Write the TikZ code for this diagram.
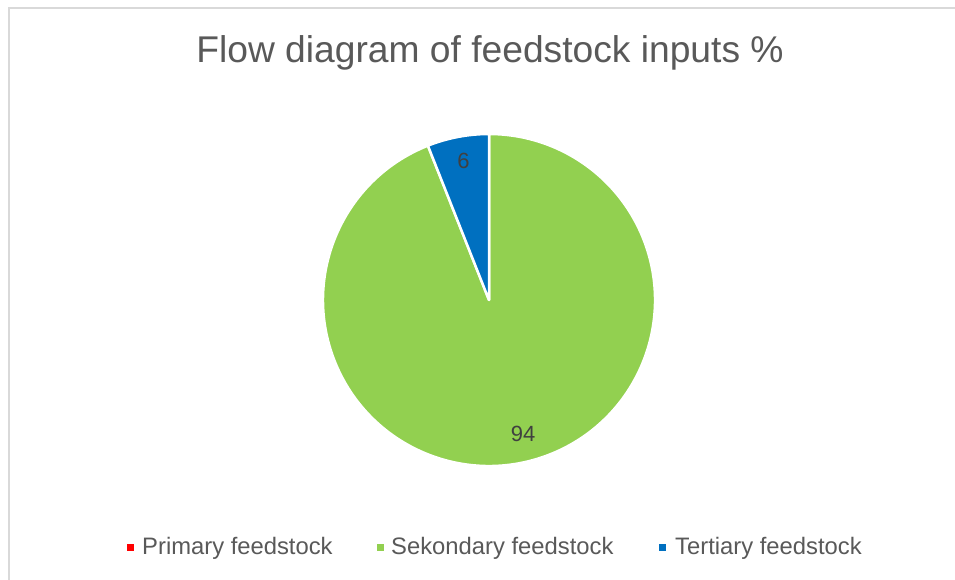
\documentclass[tikz,border=0pt]{standalone}
\usepackage{fontspec}
\setmainfont{Liberation Sans}
\usetikzlibrary{positioning}
\definecolor{ttlgray}{HTML}{595959}
\definecolor{lblgray}{HTML}{404040}
\definecolor{frame}{HTML}{D9D9D9}
\definecolor{prired}{HTML}{FF0000}
\definecolor{secgreen}{HTML}{92D050}
\definecolor{terblue}{HTML}{0070C0}

\begin{document}
\begin{tikzpicture}[
  x=1pt, y=-1pt,
  slice/.style={fill=#1, draw=white, line width=2.5pt, line join=round},
  lgdbox/.style={fill=#1, minimum size=7pt, inner sep=0pt},
  lgdtxt/.style={font=\fontsize{23.8}{27}\selectfont, text=ttlgray, inner sep=0pt, anchor=base west},
  val/.style={font=\fontsize{22}{25}\selectfont, text=lblgray, inner sep=0pt},
]

% Background and frame
\useasboundingbox (0,0) rectangle (955,579);
\clip (0,0) rectangle (955,579);
\fill[white] (0,0) rectangle (955,579);
\draw[frame, line width=1.5pt] (9,8) rectangle (970,600);

% Title
\node[font=\fontsize{37.2}{41}\selectfont, text=ttlgray, anchor=base, inner sep=0pt]
  (title) at (490,62) {Flow diagram of feedstock inputs \%};

% =============================================
% Pie: 94 / 6
% =============================================
\coordinate (ctr) at (489,300);

\draw[slice=secgreen] (ctr) -- ++(111.6:166pt) arc[start angle=111.6, end angle=450, radius=166pt] -- cycle;
\draw[slice=terblue] (ctr) -- ++(90:166pt) arc[start angle=90, end angle=111.6, radius=166pt] -- cycle;

\node[val] (lbl6) at (463.5,161) {6};
\node[val] (lbl94) at (523,434) {94};

% =============================================
% Legend
% =============================================
\node[lgdbox=prired] (kpri) at (130.5,547) {};
\node[lgdtxt] (tpri) at (142,554) {Primary feedstock};

\node[lgdbox=secgreen] (ksec) at (380,547) {};
\node[lgdtxt] (tsec) at (391,554) {Sekondary feedstock};

\node[lgdbox=terblue] (kter) at (662.5,547) {};
\node[lgdtxt] (tter) at (675,554) {Tertiary feedstock};

\end{tikzpicture}
\end{document}
